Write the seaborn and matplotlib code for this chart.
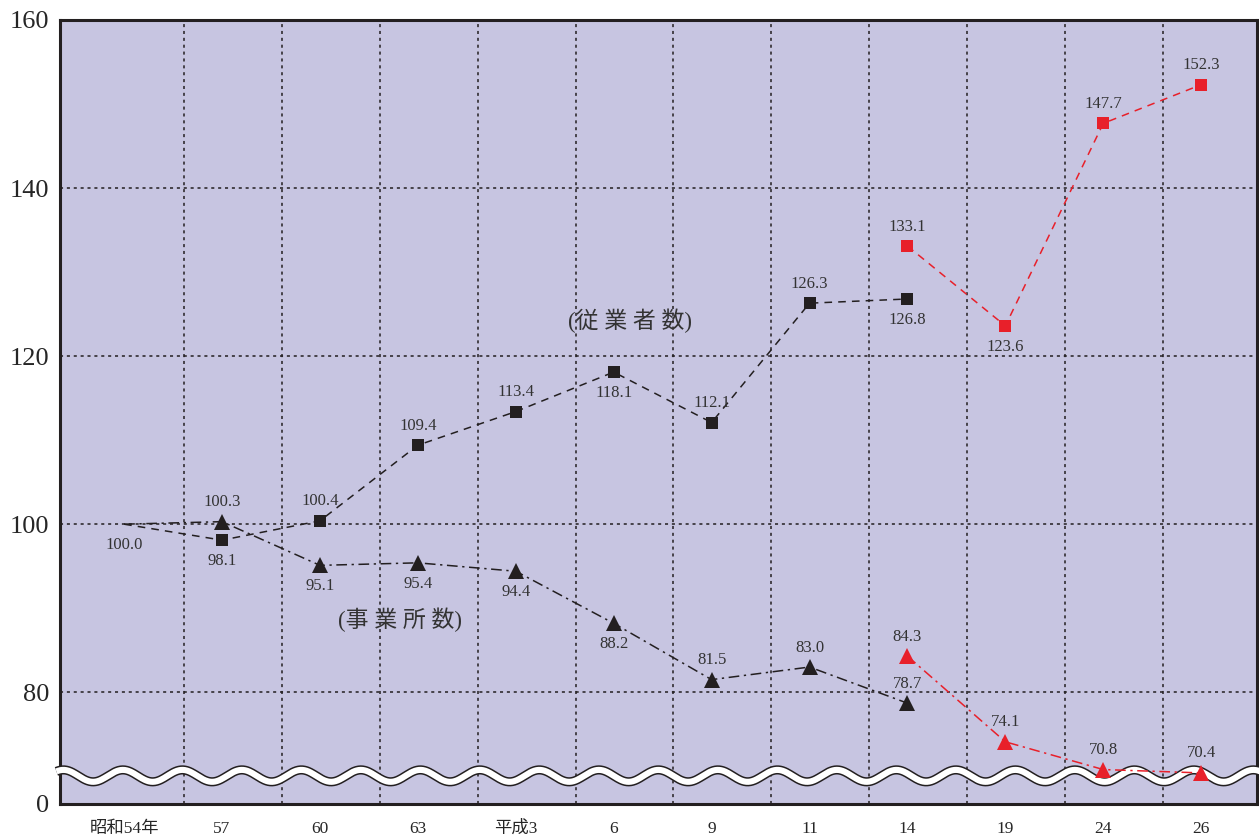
import numpy as np
import matplotlib
matplotlib.use('Agg')
import matplotlib.pyplot as plt
import matplotlib.transforms as mtransforms
import seaborn as sns

# x categories (survey years)
years = ['昭和54年', '57', '60', '63', '平成3', '6', '9', '11', '14', '19', '24', '26']

# index, 昭和54年 = 100
emp_old = [100.0, 98.1, 100.4, 109.4, 113.4, 118.1, 112.1, 126.3, 126.8]
emp_new = [133.1, 123.6, 147.7, 152.3]
est_old = [100.0, 100.3, 95.1, 95.4, 94.4, 88.2, 81.5, 83.0, 78.7]
est_new = [84.3, 74.1, 70.8, 70.4]

# where each value label sits relative to its marker
emp_old_side = ['below', 'below', 'above', 'above', 'above', 'below', 'above', 'above', 'below']
emp_new_side = ['above', 'below', 'above', 'above']
est_old_side = [None, 'above', 'below', 'below', 'below', 'below', 'above', 'above', 'above']
est_new_side = ['above', 'above', 'above', 'above']

y_ticks = [80, 100, 120, 140, 160]
y_bottom = 66.7      # bottom of the broken axis, shown as "0"
break_y = 70.05

bg = '#c7c5e1'
black = '#231f20'
red = '#e8202a'
text_col = '#333333'

sns.set_style('white')
plt.rcParams['font.family'] = ['Liberation Serif', 'Noto Sans CJK JP']

fig = plt.figure(figsize=(12.59, 8.35), dpi=100)
ax = fig.add_axes([60 / 1259, 1 - 804 / 835, 1197 / 1259, 784 / 835])
ax.set_facecolor(bg)

n_old = len(emp_old)
x_old = np.arange(n_old)
x_new = np.arange(n_old - 1, n_old - 1 + len(emp_new))

dash = (0, (5, 4))
dashdot = (0, (7, 3, 1.5, 3))
sns.lineplot(x=x_old, y=emp_old, ax=ax, color=black, linestyle=dash, lw=1.1,
             marker='s', markersize=8, markeredgewidth=0, markevery=list(range(1, n_old)), zorder=4)
sns.lineplot(x=x_new, y=emp_new, ax=ax, color=red, linestyle=dash, lw=1.1,
             marker='s', markersize=8, markeredgewidth=0, zorder=4)
sns.lineplot(x=x_old, y=est_old, ax=ax, color=black, linestyle=dashdot, lw=1.1,
             marker='^', markersize=11, markeredgewidth=0, markevery=list(range(1, n_old)), zorder=4)
sns.lineplot(x=x_new, y=est_new, ax=ax, color=red, linestyle=dashdot, lw=1.1,
             marker='^', markersize=11, markeredgewidth=0, zorder=4)


def add_labels(xs, vals, sides):
    for xv, v, s in zip(xs, vals, sides):
        if s is None:
            continue
        dy = 14 if s == 'above' else -15
        ax.annotate(f'{v:.1f}', (xv, v), xytext=(0, dy), textcoords='offset points',
                    ha='center', va='center', fontsize=12, color=text_col, zorder=5)


add_labels(x_old, emp_old, emp_old_side)
add_labels(x_new, emp_new, emp_new_side)
add_labels(x_old, est_old, est_old_side)
add_labels(x_new, est_new, est_new_side)

ax.text(5.17, 124.2, '(従 業 者 数)', ha='center', va='center', fontsize=16.5, color=text_col)
ax.text(2.82, 88.6, '(事 業 所 数)', ha='center', va='center', fontsize=16.5, color=text_col)

# axes, grid
ax.set_xlim(-0.655, 11.57)
ax.set_ylim(y_bottom, 160)
ax.set_xticks(np.arange(len(years)))
ax.set_xticklabels(years, fontsize=12.5)
ax.set_xticks(np.arange(len(years) - 1) + 0.61, minor=True)
ax.set_yticks([y_bottom] + y_ticks)
ax.set_yticklabels(['0'] + [str(t) for t in y_ticks], fontsize=19)
ax.tick_params(axis='both', which='both', length=0)
ax.tick_params(axis='x', pad=12)
ax.tick_params(axis='y', pad=8)
ax.grid(which='minor', axis='x', color=black, linestyle=(0, (2, 2.5)), lw=1.1)
ax.grid(which='major', axis='y', color=black, linestyle=(0, (2, 2.5)), lw=1.1)
ax.grid(which='major', axis='x', visible=False)
ax.set_axisbelow(True)
for sp in ax.spines.values():
    sp.set_visible(True)
    sp.set_color(black)
    sp.set_linewidth(2.2)

# wavy break mark across the axis
trans = mtransforms.blended_transform_factory(ax.transAxes, ax.transData)
wx = np.linspace(-0.003, 1.003, 1200)
wy = break_y + 0.71 * np.sin(2 * np.pi * (wx * 1197 - 48) / 59.5)
ax.plot(wx, wy, color=black, lw=6.6, transform=trans, clip_on=False, zorder=3,
        solid_capstyle='butt')
ax.plot(wx, wy, color='white', lw=4.4, transform=trans, clip_on=False, zorder=3.1,
        solid_capstyle='butt')

fig.savefig('out.png', dpi=100)
